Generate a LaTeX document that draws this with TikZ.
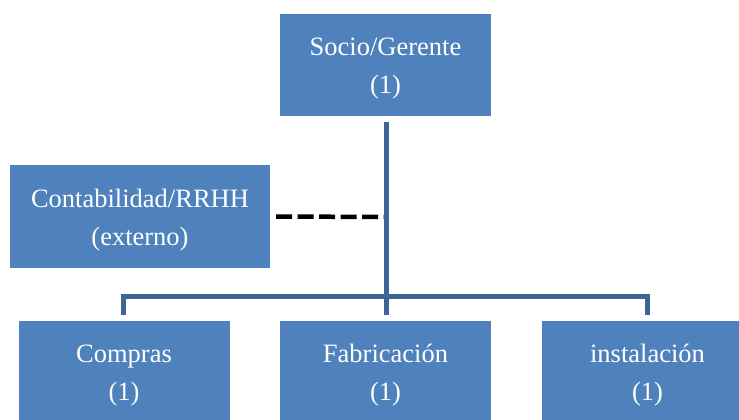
\documentclass[tikz,border=0pt]{standalone}
\usepackage{fontspec}
\setmainfont{Liberation Serif}
\definecolor{boxblue}{RGB}{79,129,189}
\definecolor{lineblue}{RGB}{62,100,150}
\newcommand\twolines[2]{\begin{tabular}{@{}c@{}}\rule{0pt}{30.6pt}#1\\#2\end{tabular}}
\tikzset{
  orgbox/.style={rectangle, fill=boxblue, draw=none, text=white,
    font=\fontsize{26.5}{38}\selectfont, inner sep=0pt},
  conn/.style={draw=lineblue, line width=5pt},
  extlink/.style={draw=black, line width=4.5pt, dash pattern=on 16pt off 5.5pt}
}
\begin{document}
\begin{tikzpicture}[x=1pt,y=-1pt]
\useasboundingbox (0,0) rectangle (739,420);
\clip (0,0) rectangle (739,420);
\node[orgbox, minimum width=211pt, minimum height=102pt] (top) at (385.5,65) {\twolines{Socio/Gerente}{(1)}};
\node[orgbox, minimum width=260pt, minimum height=103pt] (cont) at (140,216.5) {\twolines{Contabilidad/RRHH}{(externo)}};
\node[orgbox, minimum width=211pt, minimum height=102pt] (comp) at (124,372) {\twolines{Compras}{(1)}};
\node[orgbox, minimum width=211pt, minimum height=102pt] (fab) at (385.5,372) {\twolines{Fabricación}{(1)}};
\node[orgbox, minimum width=211pt, minimum height=102pt] (inst) at (647.5,372) {\twolines{instalación}{(1)}};
\coordinate (dj) at (386,217);
\coordinate (bar) at (386,296);
\draw[extlink] ([xshift=6pt]cont.east) -- (dj);
\draw[conn] ([xshift=0.5pt,yshift=-6pt]top.south) -- (bar);
\draw[conn] ([xshift=-0.5pt,yshift=6pt]comp.north) |- (bar) -| ([yshift=6pt]inst.north);
\draw[conn] (bar) -- ([xshift=0.5pt,yshift=6pt]fab.north);
\end{tikzpicture}
\end{document}
